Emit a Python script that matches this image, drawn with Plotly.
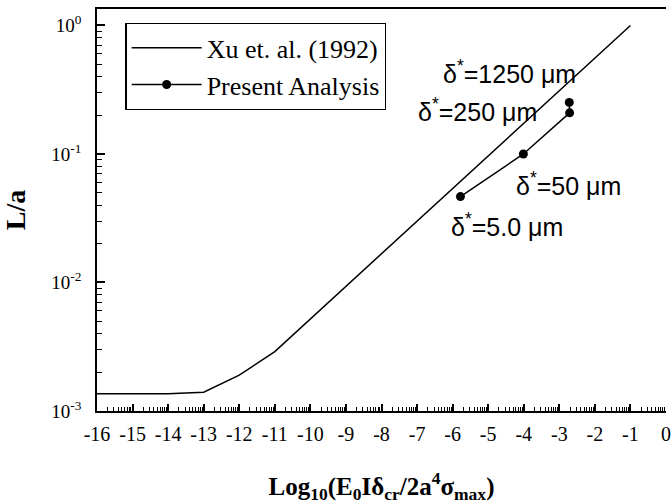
import numpy as np
import plotly.graph_objects as go

# Xu et al. (1992) curve
xu_x = [-16, -14, -13, -12, -11, -1]
xu_y = [1.36e-3, 1.36e-3, 1.40e-3, 1.9e-3, 2.9e-3, 1.0]

# Present analysis
pa_x = [-5.78, -4.01, -2.71, -2.72]
pa_y = [0.0466, 0.100, 0.209, 0.252]

# Labels for present analysis points
lab_text = ["δ<sup>*</sup>=1250 μm", "δ<sup>*</sup>=250 μm", "δ<sup>*</sup>=50 μm", "δ<sup>*</sup>=5.0 μm"]
lab_x = [-4.41, -5.30, -2.73, -4.46]
lab_logy = [-0.362, -0.658, -1.233, -1.553]

x_ticks = list(range(-16, 1))
y_ticks = [1e-3, 1e-2, 1e-1, 1e0]
y_ticktext = ["10<sup>-3</sup>", "10<sup>-2</sup>", "10<sup>-1</sup>", "10<sup>0</sup>"]

serif = "Liberation Serif"
sans = "Liberation Sans"

x_minor = [n + np.log10(k) for n in range(-16, 0) for k in range(2, 10)]
y_minor = [10.0**d * k for d in range(-3, 0) for k in range(2, 10)]

X_RANGE = [-16, 0]
Y_RANGE = [-3, 0.128]

fig = go.Figure()
fig.add_trace(go.Scatter(x=xu_x, y=xu_y, mode="lines", name="Xu et. al. (1992)",
                         line=dict(color="black", width=1.5)))
fig.add_trace(go.Scatter(x=pa_x, y=pa_y, mode="lines+markers", name="Present Analysis",
                         line=dict(color="black", width=1.5),
                         marker=dict(color="black", size=9)))

for t, x, y in zip(lab_text, lab_x, lab_logy):
    fig.add_annotation(x=x, y=y, text=t, showarrow=False, xanchor="center", yanchor="middle",
                       font=dict(family=sans, size=25, color="black"))

fig.update_layout(
    width=671, height=504,
    margin=dict(l=97, r=5, t=9, b=93),
    paper_bgcolor="white", plot_bgcolor="white",
    showlegend=True,
    legend=dict(x=0.05, y=0.965, xanchor="left", yanchor="top",
                bgcolor="white", bordercolor="black", borderwidth=1.2,
                font=dict(family=serif, size=26, color="black"),
                itemwidth=70, tracegroupgap=0),
    font=dict(family=serif, color="black"),
    xaxis=dict(range=X_RANGE, tickmode="array", tickvals=x_ticks, ticktext=[str(v) for v in x_ticks],
               showgrid=False, zeroline=False, showline=True, linecolor="black", linewidth=1.5,
               mirror=True, ticks="inside", ticklen=7, tickwidth=1.5, tickcolor="#000000",
               minor=dict(ticks="inside", tickmode="array", tickvals=x_minor, ticklen=4,
                          tickwidth=1, tickcolor="#000000", showgrid=False),
               tickfont=dict(family=serif, size=20, color="black"), ticklabelstandoff=4,
               title=dict(text="<b>Log<sub>10</sub>(E<sub>0</sub>Iδ<sub>cr</sub>/2a<sup>4</sup>σ<sub>max</sub>)</b>",
                          font=dict(family=serif, size=25, color="black"), standoff=50),
               automargin=False),
    yaxis=dict(type="log", range=Y_RANGE, tickmode="array", tickvals=y_ticks, ticktext=y_ticktext,
               showgrid=False, zeroline=False, showline=True, linecolor="black", linewidth=1.5,
               mirror=False, ticks="inside", ticklen=8, tickwidth=1.5, tickcolor="#000000",
               minor=dict(ticks="inside", tickmode="array", tickvals=y_minor, ticklen=5,
                          tickwidth=1, tickcolor="#000000", showgrid=False),
               tickfont=dict(family=serif, size=19, color="black"), ticklabelstandoff=10,
               title=dict(text="<b>L/a</b>", font=dict(family=serif, size=28, color="black"), standoff=25),
               automargin=False),
)

fig.write_html("out.html")
